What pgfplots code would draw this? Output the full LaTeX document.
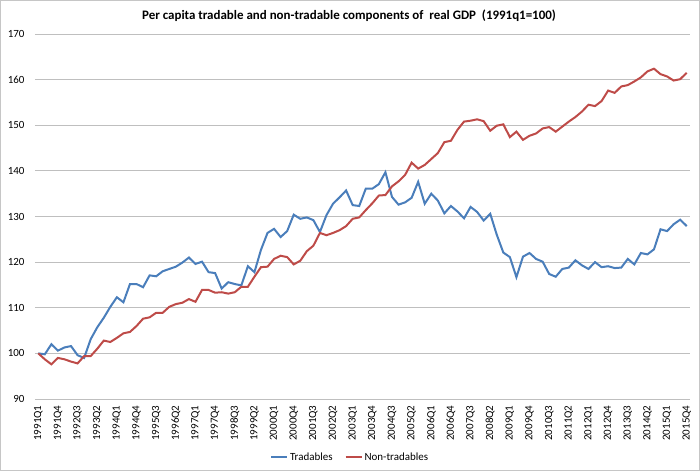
\documentclass[border=0pt]{standalone}
\usepackage{pgfplots}
\usepackage{pgfplotstable}
\pgfplotsset{compat=1.18}
\usepackage{fontspec}
\setmainfont{Carlito}

\definecolor{tradblue}{HTML}{4A7EBB}
\definecolor{nontradred}{HTML}{BE4B48}
\definecolor{gridgray}{HTML}{BFBFBF}

% quarter index (0 = 1991Q1), tradables, non-tradables
\pgfplotstableread{
q trad nontrad
0 100.0 100.0
1 99.8 98.7
2 102.0 97.6
3 100.6 99.0
4 101.3 98.7
5 101.6 98.2
6 99.6 97.8
7 99.0 99.4
8 103.1 99.4
9 105.7 101.0
10 107.8 102.8
11 110.2 102.5
12 112.3 103.4
13 111.2 104.4
14 115.2 104.7
15 115.2 106.0
16 114.5 107.6
17 117.1 107.9
18 116.9 108.9
19 118.0 108.9
20 118.5 110.2
21 119.0 110.8
22 119.9 111.1
23 121.0 111.9
24 119.6 111.3
25 120.1 113.9
26 117.8 113.9
27 117.6 113.3
28 114.2 113.4
29 115.6 113.1
30 115.2 113.4
31 114.9 114.6
32 119.1 114.6
33 117.8 116.8
34 122.7 118.9
35 126.4 119.0
36 127.3 120.7
37 125.5 121.4
38 126.8 121.1
39 130.4 119.5
40 129.5 120.3
41 129.8 122.4
42 129.2 123.6
43 126.6 126.4
44 130.3 125.9
45 132.8 126.4
46 134.2 127.0
47 135.7 127.9
48 132.5 129.5
49 132.3 129.8
50 136.1 131.4
51 136.1 132.9
52 137.1 134.6
53 139.7 134.7
54 134.3 136.6
55 132.6 137.7
56 133.1 139.1
57 134.1 141.8
58 137.6 140.5
59 132.8 141.3
60 135.0 142.6
61 133.5 143.9
62 130.7 146.3
63 132.3 146.6
64 131.1 149.0
65 129.6 150.8
66 132.1 151.0
67 131.0 151.3
68 129.1 150.9
69 130.6 148.8
70 126.0 149.9
71 122.1 150.2
72 121.1 147.4
73 116.7 148.6
74 121.2 146.8
75 122.0 147.7
76 120.7 148.2
77 120.1 149.3
78 117.4 149.6
79 116.8 148.6
80 118.5 149.7
81 118.8 150.8
82 120.4 151.8
83 119.3 153.0
84 118.5 154.5
85 120.0 154.2
86 118.9 155.3
87 119.1 157.6
88 118.7 157.1
89 118.8 158.5
90 120.7 158.8
91 119.5 159.6
92 122.0 160.5
93 121.7 161.8
94 122.8 162.4
95 127.2 161.2
96 126.8 160.7
97 128.3 159.8
98 129.3 160.1
99 127.9 161.5
}\gdpdata

\begin{document}
\begin{tikzpicture}
\path[use as bounding box] (-35bp,-72bp) rectangle (665bp,399bp);
\draw[gray!45, line width=0.8bp] (-34.6bp,-71.6bp) rectangle (664.6bp,398.6bp);
\begin{axis}[
  scale only axis,
  width=655bp, height=365bp,
  xmin=-0.5, xmax=99.5,
  ymin=90, ymax=170,
  xtick={0,3,...,99},
  xticklabels={1991Q1,1991Q4,1992Q3,1993Q2,1994Q1,1994Q4,1995Q3,1996Q2,1997Q1,1997Q4,1998Q3,1999Q2,2000Q1,2000Q4,2001Q3,2002Q2,2003Q1,2003Q4,2004Q3,2005Q2,2006Q1,2006Q4,2007Q3,2008Q2,2009Q1,2009Q4,2010Q3,2011Q2,2012Q1,2012Q4,2013Q3,2014Q2,2015Q1,2015Q4},
  ytick={90,100,...,170},
  ymajorgrids,
  major grid style={gridgray, line width=0.8bp},
  axis line style={draw=none},
  major tick length=0pt,
  tick label style={font=\fontsize{11}{13}\selectfont},
  xticklabel style={rotate=90, anchor=east, xshift=-3bp},
  yticklabel style={xshift=-7bp},
  /pgf/number format/assume math mode=true,
  legend columns=2,
  legend style={at={(0.481,-0.159)}, anchor=center, draw=none,
    font=\fontsize{11}{13}\selectfont,
    /tikz/every even column/.append style={column sep=10bp}},
  legend image code/.code={\draw[#1] (0bp,0bp) -- (16bp,0bp);},
]
\addplot[tradblue, line width=2bp] table[x=q, y=trad] {\gdpdata};
\addlegendentry{Tradables}
\addplot[nontradred, line width=2bp] table[x=q, y=nontrad] {\gdpdata};
\addlegendentry{Non-tradables}
\end{axis}
\node[font=\bfseries\fontsize{13}{15}\selectfont] at (314bp,383bp)
  {Per capita tradable and non-tradable components of\ \ real GDP\ \ (1991q1=100)};
\end{tikzpicture}
\end{document}
